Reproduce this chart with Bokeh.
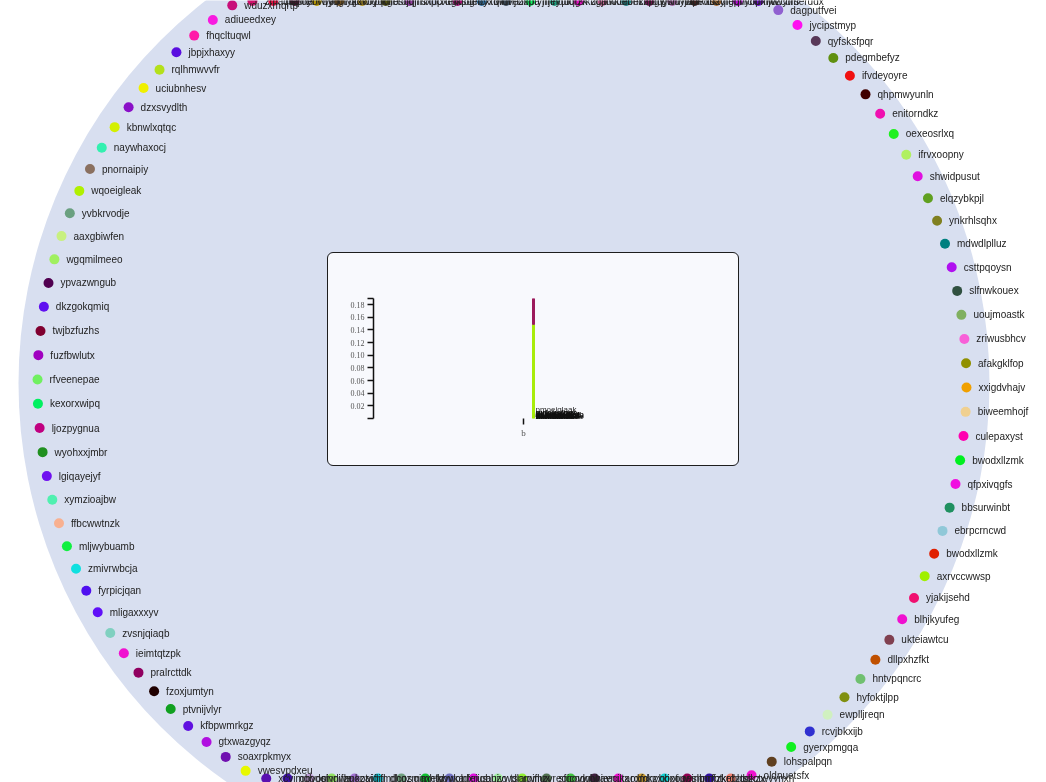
import numpy as np
from bokeh.plotting import figure
from bokeh.models import ColumnDataSource, Range1d, FactorRange, FixedTicker, LabelSet, NumeralTickFormatter, GridBox
from bokeh.transform import dodge
from bokeh.core.properties import value
from bokeh.embed import file_html
from bokeh.resources import INLINE

# legend ring, clockwise from the top-left end of the top row
top_names = ["wduzxmqrtp", "zmaqteplvr", "hspdenrwyo", "ybvqyqgtyk", "tnmrqjdwlu", "axkbyqcfie",
             "pikgbsoqjn", "rojqhhnpcl", "sxdpxekqbg", "ugksuebyxo", "lmcxnwdhjt", "qirfvezopa",
             "dxptyjmnqu", "hjeyuiorzk", "fqgvkdcalw", "zgjiocuebm", "kolbexzpgv", "cmdqyshrna",
             "gwuytvpeob", "jnbikxdzqf", "tsayrgphlc", "eqvyflumjo", "opxiwzcbrs", "vwytmerudx"]
top_colors = ["#c8107a", "#d0106a", "#e01040", "#501030", "#c0a000", "#8a6020", "#b09020", "#505010",
              "#9040a0", "#c0c8e0", "#a01070", "#3070a0", "#405060", "#10f060", "#20a080", "#e010c0",
              "#c06090", "#208080", "#701050", "#a060a0", "#402020", "#b07030", "#b010d0", "#7010d0"]

right_names = ["dagputfvei", "jycipstmyp", "qyfsksfpqr", "pdegmbefyz", "ifvdeyoyre", "qhpmwyunln",
               "enitorndkz", "oexeosrlxq", "ifrvxoopny", "shwidpusut", "elqzybkpjl", "ynkrhlsqhx",
               "mdwdlplluz", "csttpqoysn", "slfnwkouex", "uoujmoastk", "zriwusbhcv", "afakgklfop",
               "xxigdvhajv", "biweemhojf", "culepaxyst", "bwodxllzmk", "qfpxivqgfs", "bbsurwinbt",
               "ebrpcrncwd", "bwodxllzmk", "axrvccwwsp", "yjakijsehd", "blhjkyufeg", "ukteiawtcu",
               "dllpxhzfkt", "hntvpqncrc", "hyfoktjlpp", "ewplljreqn", "rcvjbkxijb", "gyerxpmgqa",
               "lohspalpqn", "oldnuetsfx"]
right_colors = ["#9060d0", "#ff10f0", "#583858", "#609010", "#f01010", "#400000", "#f010b0", "#20f020",
                "#b0f060", "#e010e0", "#60a020", "#808020", "#008080", "#b010f0", "#305040", "#80b060",
                "#f860d8", "#909000", "#f0a000", "#f0d090", "#ff00b0", "#00f020", "#f010e0", "#209060",
                "#90c8d8", "#e02000", "#a0f000", "#f01070", "#f010d0", "#804050", "#c05000", "#70c070",
                "#809010", "#d0f0c0", "#3030d0", "#10f020", "#604020", "#f010d0"]

bottom_names = ["pzctwvynxn", "krdztslkzx", "hmfzkebldq", "iuwshnrfpt", "ybbxogeinq", "rdmkzxxjot",
                "ecjkaoxfdn", "lgiwaynutx", "sfqovwbhie", "mzvreqjcgo", "tsnrgiflux", "aujvwdlapy",
                "nfeijqbhzo", "kbwpldxrus", "gjmhtqyvka", "dhqzmaxelv", "yifrtmdcos", "hnkzajdifl",
                "rmdifzuopt", "qbvosjynwe", "xcvimqbdol"]
bottom_colors = ["#f08070", "#3010a0", "#900050", "#10d0d0", "#d0a030", "#f010d0", "#402040",
                 "#40c040", "#507050", "#90f030", "#a0f0a0", "#e010e0", "#7070c0", "#10c030",
                 "#70a080", "#10d0e0", "#a070d0", "#90e060", "#c0a0d8", "#3c10a0", "#5a10b0"]

left_names = ["vwesvpdxeu", "soaxrpkmyx", "gtxwazgyqz", "kfbpwmrkgz", "ptvnijvlyr", "fzoxjumtyn",
              "pralrcttdk", "ieimtqtzpk", "zvsnjqiaqb", "mligaxxxyv", "fyrpicjqan", "zmivrwbcja",
              "mljwybuamb", "ffbcwwtnzk", "xymzioajbw", "lgiqayejyf", "wyohxxjmbr", "ljozpygnua",
              "kexorxwipq", "rfveenepae", "fuzfbwlutx", "twjbzfuzhs", "dkzgokqmiq", "ypvazwngub",
              "wgqmilmeeo", "aaxgbiwfen", "yvbkrvodje", "wqoeigleak", "pnornaipiy", "naywhaxocj",
              "kbnwlxqtqc", "dzxsvydlth", "uciubnhesv", "rqlhmwvvfr", "jbpjxhaxyy", "fhqcltuqwl",
              "adiueedxey"]
left_colors = ["#e8f800", "#7010b0", "#b010e0", "#6010e0", "#10a020", "#200000", "#900060",
               "#f010d0", "#80d0c0", "#6010f8", "#5010f0", "#10e0e0", "#10f040", "#f8b090",
               "#50f0b0", "#7010f0", "#209020", "#c00080", "#00f060", "#70f060", "#a000c0",
               "#800030", "#6010f0", "#500050", "#a0f060", "#c8f080", "#6aa080", "#b0f000",
               "#8a7060", "#33f0b0", "#d4f000", "#8a10c8", "#f0f000", "#b4e01a", "#5a0ee0",
               "#ff1aa8", "#f81be0"]

# inner bar chart
bar_category = ["b"]
bar_lime = [0.1488]
bar_maroon = [0.0409]
y_ticks = [0, 0.02, 0.04, 0.06, 0.08, 0.10, 0.12, 0.14, 0.16, 0.18]
y_top = 0.1897
top_label = ["pmoeiglaak"]
top_label_value = [0.0141]
blob_names = ["qyfsksfpqr", "kexorxwipq", "dllpxhzfkt", "shwidpusut", "mljwybuamb", "ynkrhlsqhx",
              "bwodxllzmk", "ieimtqtzpk", "culepaxyst", "wgqmilmeeo", "ptvnijvlyr", "axrvccwwsp",
              "fzoxjumtyn", "hyfoktjlpp", "oldnuetsfx", "gtxwazgyqz", "mdwdlplluz", "rcvjbkxijb",
              "zvsnjqiaqb", "elqzybkpjl", "twjbzfuzhs", "ukteiawtcu"]
blob_values = [0.0090, 0.0082, 0.0075, 0.0068, 0.0061, 0.0054, 0.0047, 0.0040, 0.0033, 0.0027,
               0.0021, 0.0015, 0.0009, 0.0003, -0.0003, -0.0009, -0.0015, -0.0021, -0.0027,
               -0.0033, -0.0038, -0.0043]

names = top_names + right_names + bottom_names + left_names
colors = top_colors + right_colors + bottom_colors + left_colors
n = len(names)
cx, cy, ring = 501.5, 383.0, 464.5
theta = np.radians(-35.5 + 360.0 * np.arange(n) / n)
xs = cx + ring * np.sin(theta)
ys = np.clip(cy - ring * np.cos(theta), 0.5, 778.0)
ring_src = ColumnDataSource(dict(x=xs, y=ys, name=names, color=colors))

p = figure(width=1046, height=782, x_range=Range1d(0, 1046), y_range=Range1d(782, 0),
           x_axis_type=None, y_axis_type=None, toolbar_location=None, output_backend="svg",
           min_border=0, outline_line_color=None)
p.grid.visible = False
p.circle(x=[503.5], y=[383.0], radius=485.5, fill_color="#d8dff0", line_color=None)
p.scatter("x", "y", source=ring_src, size=10, fill_color="color", line_color=None)
p.text("x", "y", text="name", source=ring_src, x_offset=12, text_baseline="middle",
       text_font=value("Liberation Sans"), text_font_size="10px", text_color="#222222")
p.styles = {"position": "fixed", "left": "0px", "top": "0px"}

bar_src = ColumnDataSource(dict(x=bar_category, lime=bar_lime, maroon=bar_maroon))
top_src = ColumnDataSource(dict(x=bar_category, y=top_label_value, name=top_label))
blob_src = ColumnDataSource(dict(x=bar_category * len(blob_names), y=blob_values, name=blob_names))

q = figure(width=410, height=212, x_range=FactorRange(*bar_category), y_range=Range1d(0, y_top),
           toolbar_location=None, output_backend="svg",
           min_border_left=45, min_border_right=65, min_border_top=45, min_border_bottom=47,
           background_fill_alpha=0, border_fill_alpha=0, outline_line_color=None)
q.grid.visible = False
q.vbar_stack(["lime", "maroon"], x=dodge("x", 10 / 300, range=q.x_range), width=2 / 300,
             color=["#a8ec0a", "#9c1a5c"], source=bar_src)
q.add_layout(LabelSet(x="x", y="y", text="name", source=top_src, x_offset=12,
                      text_baseline="middle", text_font=value("Liberation Sans"),
                      text_font_size="8px", text_color="#222222"))
q.add_layout(LabelSet(x="x", y="y", text="name", source=blob_src, x_offset=12,
                      text_baseline="middle", text_font=value("Liberation Sans"),
                      text_font_size="8px", text_font_style="bold", text_color="#111111"))

q.yaxis.ticker = FixedTicker(ticks=y_ticks + [y_top], minor_ticks=[])
q.yaxis.formatter = NumeralTickFormatter(format="0.00")
q.yaxis.major_label_overrides = {0: "", y_top: ""}
for ax in (q.xaxis, q.yaxis):
    ax.major_tick_in = 0
    ax.major_tick_out = 6
    ax.major_tick_line_color = "#111111"
    ax.major_tick_line_width = 1.5
    ax.axis_line_color = "#111111"
    ax.axis_line_width = 1.5
    ax.minor_tick_line_color = None
    ax.major_label_text_font = "Liberation Serif"
    ax.major_label_text_color = "#555555"
    ax.major_label_text_font_size = "8px"
    ax.major_label_standoff = 3
q.xaxis.axis_line_color = None
q.xaxis.major_label_text_font_size = "9px"
q.styles = {"position": "fixed", "left": "328px", "top": "253px", "outline": "1px solid #1e1e1e",
            "border-radius": "5px", "overflow": "hidden", "background-color": "#f8f9fd"}

# separate grid rows and columns so the two plots do not align their borders
page = GridBox(children=[(p, 0, 0), (q, 1, 1)])
open("out.html", "w").write(file_html(page, INLINE))
